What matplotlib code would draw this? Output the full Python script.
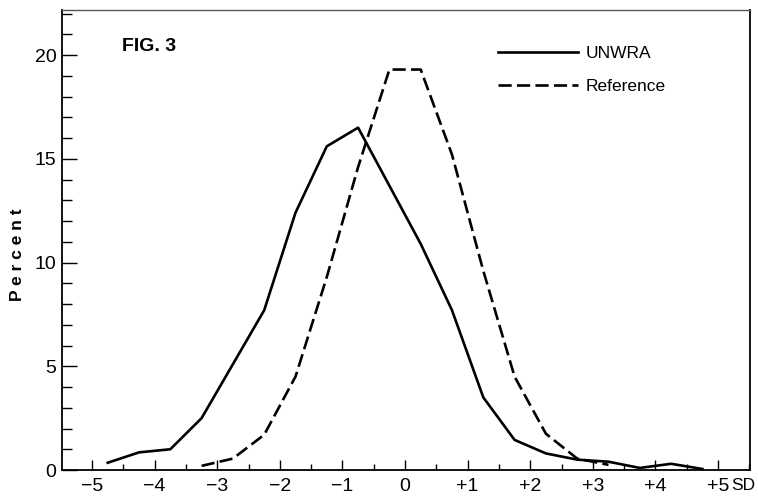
import matplotlib
matplotlib.use('Agg')
import matplotlib.pyplot as plt
from matplotlib.ticker import MultipleLocator, FixedLocator, FixedFormatter

plt.rcParams['font.family'] = ['Liberation Sans', 'DejaVu Sans']

# SD class midpoints and percentages
unwra_sd  = [-4.75, -4.25, -3.75, -3.25, -2.75, -2.25, -1.75, -1.25, -0.75, -0.25,
             0.25, 0.75, 1.25, 1.75, 2.25, 2.75, 3.25, 3.75, 4.25, 4.75]
unwra_pct = [0.35, 0.85, 1.0, 2.5, 5.1, 7.7, 12.4, 15.6, 16.5, 13.7,
             10.9, 7.7, 3.5, 1.45, 0.8, 0.5, 0.4, 0.1, 0.3, 0.05]

ref_sd  = [-3.25, -2.75, -2.25, -1.75, -1.25, -0.75, -0.25, 0.25, 0.75, 1.25, 1.75, 2.25, 2.75, 3.25]
ref_pct = [0.2, 0.55, 1.7, 4.5, 9.3, 14.6, 19.3, 19.3, 15.2, 9.6, 4.5, 1.75, 0.55, 0.25]

xtick_pos    = [-5, -4, -3, -2, -1, 0, 1, 2, 3, 4, 5]
xtick_labels = ['\u22125', '\u22124', '\u22123', '\u22122', '\u22121', '0', '+1', '+2', '+3', '+4', '+5']
ytick_pos    = [0, 5, 10, 15, 20]

fig = plt.figure(figsize = (7.58, 4.97), dpi = 100)
ax  = fig.add_axes([0.0818, 0.0543, 0.9076, 0.9256])

ax.plot(unwra_sd, unwra_pct, color = 'black', lw = 1.9, label = 'UNWRA')
ax.plot(ref_sd, ref_pct, color = 'black', lw = 1.9, dashes = (5, 2), label = 'Reference')

ax.set_xlim(-5.48, 5.51)
ax.set_ylim(0, 22.17)

ax.xaxis.set_major_locator(FixedLocator(xtick_pos))
ax.xaxis.set_major_formatter(FixedFormatter(xtick_labels))
ax.xaxis.set_minor_locator(MultipleLocator(0.5))
ax.yaxis.set_major_locator(FixedLocator(ytick_pos))
ax.yaxis.set_minor_locator(MultipleLocator(1))

ax.tick_params(axis = 'x', which = 'major', direction = 'in', length = 7, width = 1, pad = 6, labelsize = 14)
ax.tick_params(axis = 'x', which = 'minor', direction = 'in', length = 4, width = 1)
ax.tick_params(axis = 'y', which = 'major', direction = 'in', length = 11, width = 1, pad = 4, labelsize = 14)
ax.tick_params(axis = 'y', which = 'minor', direction = 'in', length = 7, width = 1)

for side in ['left', 'bottom', 'right']:
    ax.spines[side].set_linewidth(1.3)
ax.spines['top'].set_linewidth(1.0)
ax.spines['top'].set_color('#555555')

ax.annotate('SD', xy = (5.21, 0), xycoords = ('data', 'axes fraction'),
            xytext = (0, -5.5), textcoords = 'offset points',
            ha = 'left', va = 'top', fontsize = 12.5)

ax.text(-4.52, 20.43, 'FIG. 3', ha = 'left', va = 'center', fontsize = 14, fontweight = 'bold')

fig.text(0.023, 0.488, 'P e r c e n t', rotation = 90, ha = 'center', va = 'center',
         fontsize = 12.5, fontweight = 'bold')

ax.legend(loc = 'upper left', bbox_to_anchor = (0.634, 0.921), frameon = False,
          borderaxespad = 0, borderpad = 0, handlelength = 4.6, handletextpad = 0.46,
          labelspacing = 1.02, fontsize = 12.5)

fig.savefig('out.png', dpi = 100)
